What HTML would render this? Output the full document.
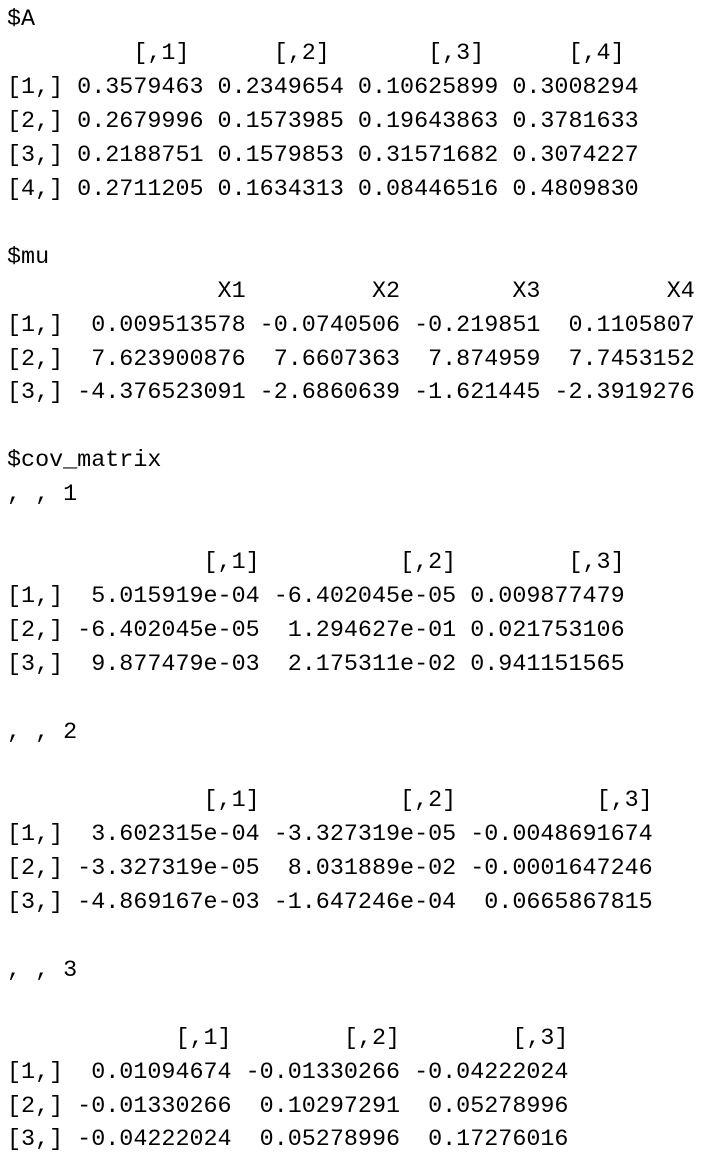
<!DOCTYPE html>
<html>
<head>
<meta charset="utf-8">
<style>
html,body{margin:0;padding:0;background:#fff;width:712px;height:1168px;overflow:hidden;}
pre{margin:0;padding:4px 0 0 7px;font-family:"Liberation Mono",monospace;font-size:23.4px;line-height:33.96px;color:#000;white-space:pre;}
</style>
</head>
<body>
<pre><span>$A
         [,1]      [,2]       [,3]      [,4]
[1,] 0.3579463 0.2349654 0.10625899 0.3008294
[2,] 0.2679996 0.1573985 0.19643863 0.3781633
[3,] 0.2188751 0.1579853 0.31571682 0.3074227
[4,] 0.2711205 0.1634313 0.08446516 0.4809830</span>

<span>$mu
               X1         X2        X3         X4
[1,]  0.009513578 -0.0740506 -0.219851  0.1105807
[2,]  7.623900876  7.6607363  7.874959  7.7453152
[3,] -4.376523091 -2.6860639 -1.621445 -2.3919276</span>

<span>$cov_matrix
, , 1

              [,1]          [,2]        [,3]
[1,]  5.015919e-04 -6.402045e-05 0.009877479
[2,] -6.402045e-05  1.294627e-01 0.021753106
[3,]  9.877479e-03  2.175311e-02 0.941151565

, , 2

              [,1]          [,2]          [,3]
[1,]  3.602315e-04 -3.327319e-05 -0.0048691674
[2,] -3.327319e-05  8.031889e-02 -0.0001647246
[3,] -4.869167e-03 -1.647246e-04  0.0665867815

, , 3

            [,1]        [,2]        [,3]
[1,]  0.01094674 -0.01330266 -0.04222024
[2,] -0.01330266  0.10297291  0.05278996
[3,] -0.04222024  0.05278996  0.17276016</span></pre>
</body>
</html>
